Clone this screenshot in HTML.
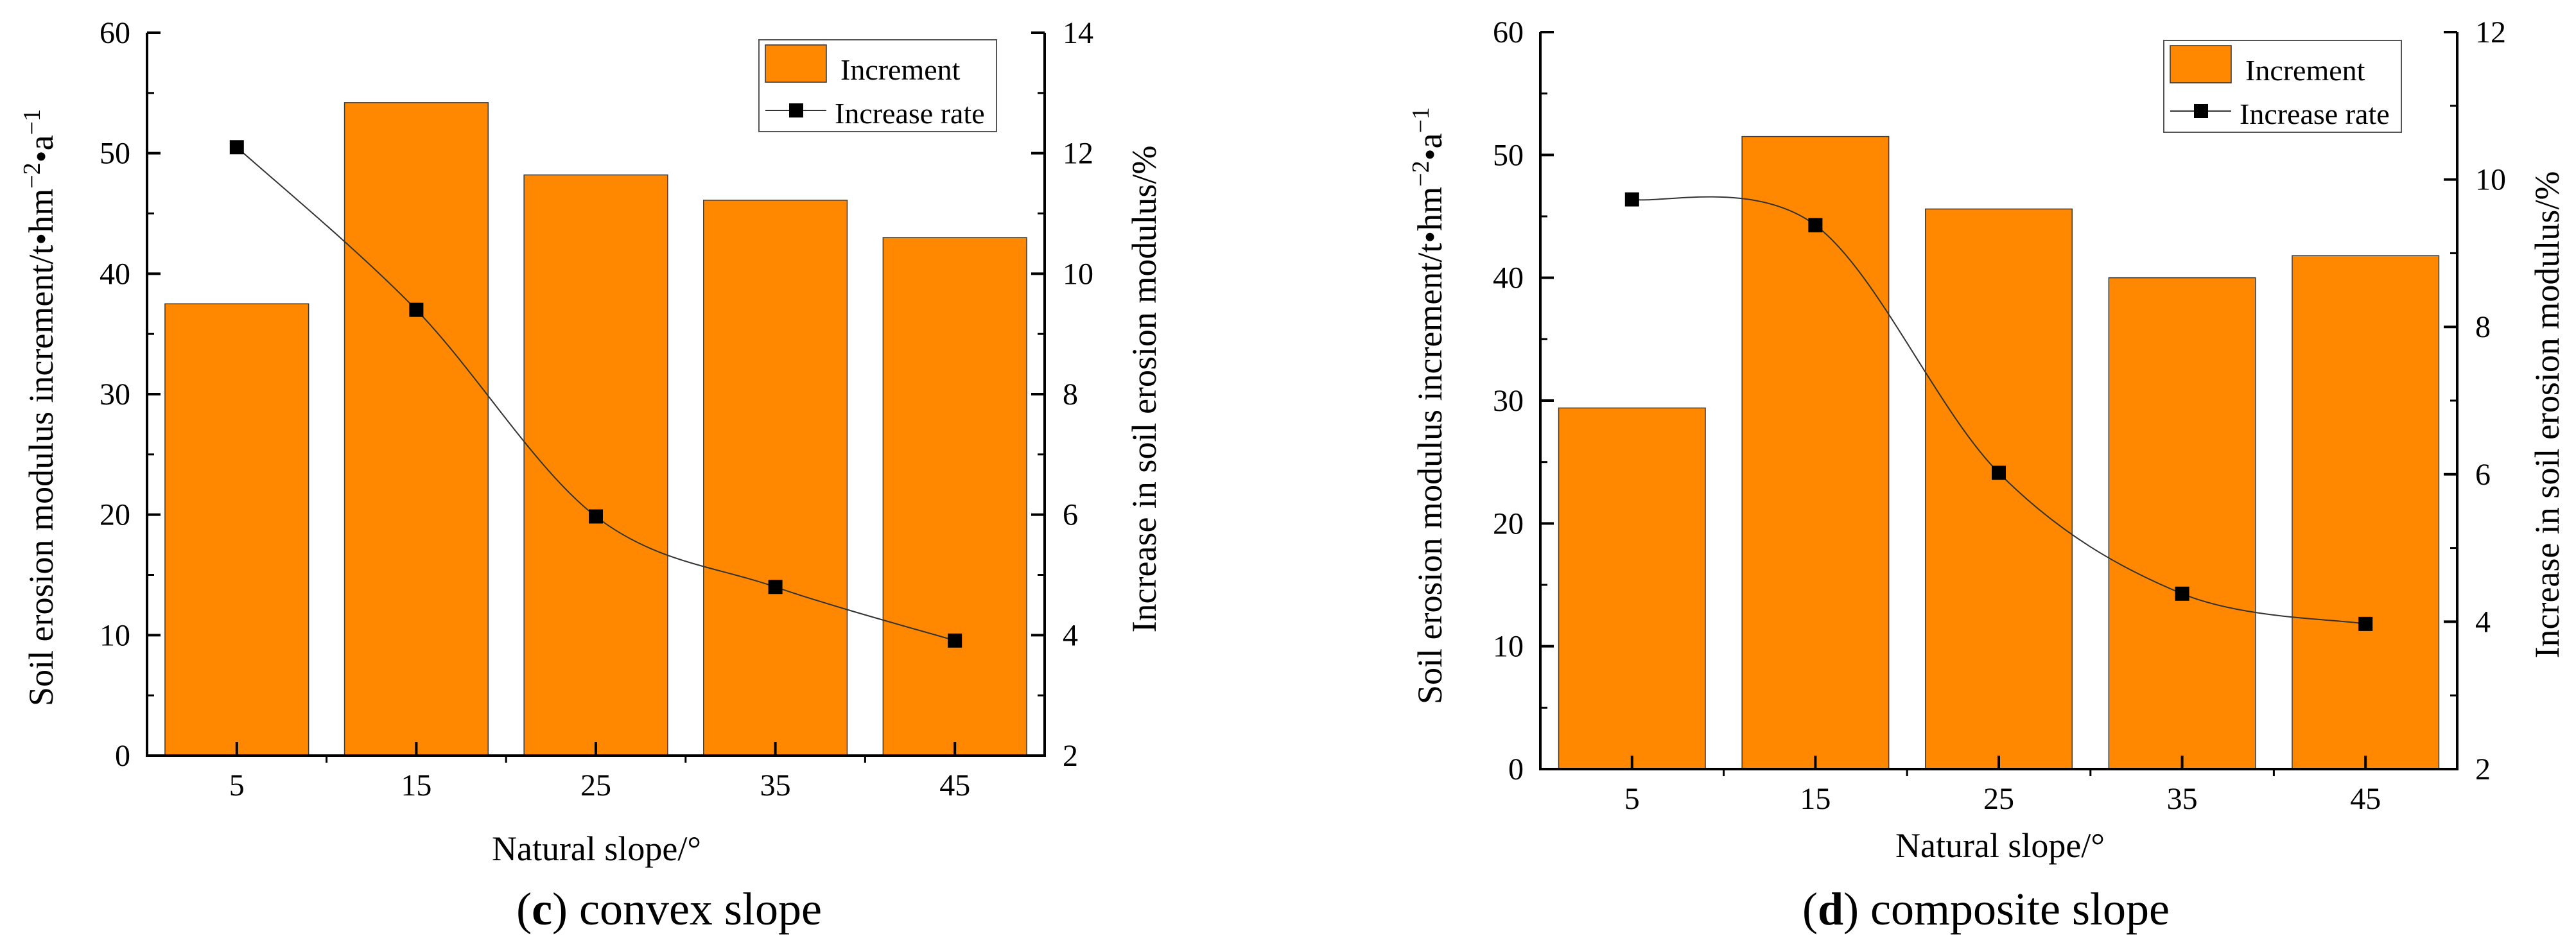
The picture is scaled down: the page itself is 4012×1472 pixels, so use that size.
<!DOCTYPE html>
<html><head><meta charset="utf-8"><style>
html,body{margin:0;padding:0;background:#fff;}
svg{display:block;}
svg text{font-family:"Liberation Serif","DejaVu Serif",serif;}
</style></head><body>
<svg id="fig" width="4012" height="1472" viewBox="0 0 4012 1472" xmlns="http://www.w3.org/2000/svg" font-family="Liberation Serif, serif"></svg>
<script>
const categories = ["5","15","25","35","45"];
const incrementC = [37.5, 54.2, 48.2, 46.1, 43.0];
const rateC = [12.1, 9.4, 5.97, 4.8, 3.91];
const incrementD = [29.4, 51.5, 45.6, 40.0, 41.8];
const rateD = [9.73, 9.38, 6.02, 4.38, 3.97];
const leftTicks = [0,10,20,30,40,50,60];
const rightTicksC = [2,4,6,8,10,12,14];
const rightTicksD = [2,4,6,8,10,12];

const NS = "http://www.w3.org/2000/svg";
const svg = document.getElementById('fig');
function mk(tag, attrs, parent, text){
  const e = document.createElementNS(NS, tag);
  for (const k in attrs) e.setAttribute(k, attrs[k]);
  if (tag === 'text') e.setAttribute('font-family', 'Liberation Serif, serif');
  if (text !== undefined) e.textContent = text;
  (parent||svg).appendChild(e);
  return e;
}

function chart(cfg, inc, rate, rTicks){
  const g = mk('g', {});
  
  
  const L=cfg.L, R=cfg.R, T=cfg.T, B=cfg.B;
  const band = (R-L)/categories.length;
  const xc = i => L + band*(i+0.5);
  const yl = v => B - (v-0)/(60-0)*(B-T);
  const rMin = rTicks[0], rMax = rTicks[rTicks.length-1];
  const yr = v => B - (v-rMin)/(rMax-rMin)*(B-T);
  const bw = band*0.8;
  inc.forEach((v,i)=>{
    const r = mk('rect',{x:xc(i)-bw/2, y:yl(v), width:bw, height:B-yl(v), fill:'#FF8800', stroke:'#3a3a3a','stroke-width':1.5}, g);
    
    
  });
  const pts = rate.map((v,i)=>[xc(i), yr(v)]);
  let d = 'M'+pts[0][0]+','+pts[0][1];
  for (let i=0;i<pts.length-1;i++){
    const p0=pts[Math.max(0,i-1)], p1=pts[i], p2=pts[i+1], p3=pts[Math.min(pts.length-1,i+2)];
    const c1=[p1[0]+(p2[0]-p0[0])/6, p1[1]+(p2[1]-p0[1])/6];
    const c2=[p2[0]-(p3[0]-p1[0])/6, p2[1]-(p3[1]-p1[1])/6];
    d += ' C'+c1[0]+','+c1[1]+' '+c2[0]+','+c2[1]+' '+p2[0]+','+p2[1];
  }
  const ln = mk('path',{d:d, fill:'none', stroke:'#333', 'stroke-width':2}, g);
  
  
  pts.forEach((p,i)=>{
    const m = mk('rect',{x:p[0]-11, y:p[1]-11, width:22, height:22, fill:'#000'}, g);
    
    
  });
  const ax = mk('path',{d:`M${L},${T} V${B} H${R} V${T}`, fill:'none', stroke:'#000','stroke-width':4}, g);
  
  
  leftTicks.forEach((v,i)=>{
    const y=yl(v);
    mk('line',{x1:L,x2:L+21,y1:y,y2:y,stroke:'#000','stroke-width':4}, g);
    if (i<leftTicks.length-1){ const ym=yl(v+5); mk('line',{x1:L,x2:L+11,y1:ym,y2:ym,stroke:'#000','stroke-width':3}, g); }
    const t = mk('text',{x:L-26, y:y+16, 'text-anchor':'end','font-size':48}, g, String(v));
    
    
  });
  rTicks.forEach((v,i)=>{
    const y=yr(v);
    mk('line',{x1:R,x2:R-21,y1:y,y2:y,stroke:'#000','stroke-width':4}, g);
    if (i<rTicks.length-1){ const ym=yr(v+1); mk('line',{x1:R,x2:R-11,y1:ym,y2:ym,stroke:'#000','stroke-width':3}, g); }
    const t = mk('text',{x:R+28, y:y+16, 'text-anchor':'start','font-size':48}, g, String(v));
    
    
  });
  categories.forEach((c,i)=>{
    const x=xc(i);
    mk('line',{x1:x,x2:x,y1:B,y2:B-21,stroke:'#000','stroke-width':4}, g);
    if (i>0) mk('line',{x1:L+band*i,x2:L+band*i,y1:B,y2:B+11,stroke:'#000','stroke-width':3}, g);
    const t = mk('text',{x:x, y:B+62, 'text-anchor':'middle','font-size':48}, g, c);
    
    
  });
  const xt = mk('text',{x:cfg.xtX, y:cfg.xtY, 'text-anchor':'middle','font-size':54}, g, 'Natural slope/°');
  
  
  const yt = mk('text',{transform:`translate(${cfg.ylX},${cfg.ylY}) rotate(-90)`, 'text-anchor':'middle','font-size':54}, g);
  
  
  mk('tspan',{},yt,'Soil erosion modulus increment/t•hm');
  mk('tspan',{dy:-20,'font-size':38},yt,'−2');
  mk('tspan',{dy:20},yt,'•a');
  mk('tspan',{dy:-20,'font-size':38},yt,'−1');
  const yr2 = mk('text',{transform:`translate(${cfg.yrX},${cfg.yrY}) rotate(-90)`, 'text-anchor':'middle','font-size':54}, g, 'Increase in soil erosion modulus/%');
  
  
  const lg = mk('g',{}, g);
  
  
  const lx=cfg.legX, ly=cfg.legY;
  mk('rect',{x:lx,y:ly,width:370,height:143,fill:'#fff',stroke:'#555','stroke-width':2}, lg);
  mk('rect',{x:lx+10,y:ly+8,width:95,height:58,fill:'#FF8800',stroke:'#333','stroke-width':1.5}, lg);
  mk('text',{x:lx+127,y:ly+62,'font-size':46}, lg, 'Increment');
  mk('line',{x1:lx+10,x2:lx+105,y1:ly+110,y2:ly+110,stroke:'#333','stroke-width':2}, lg);
  mk('rect',{x:lx+47,y:ly+99,width:22,height:22,fill:'#000'}, lg);
  mk('text',{x:lx+118,y:ly+130,'font-size':46}, lg, 'Increase rate');
  const cap = mk('text',{x:cfg.capX,y:cfg.capY,'text-anchor':'middle','font-size':72}, g);
  
  
  mk('tspan',{},cap,'(');
  mk('tspan',{'font-weight':'bold'},cap,cfg.letter);
  mk('tspan',{},cap,') '+cfg.capText);
}

chart({name:'chart-convex-slope',L:229,R:1627,T:51,B:1177,xtX:929,xtY:1340,ylX:82,ylY:635,yrX:1800,yrY:606,legX:1182,legY:62,capX:1042,capY:1440,letter:'c',capText:'convex slope'}, incrementC, rateC, rightTicksC);
chart({name:'chart-composite-slope',L:2399,R:3827,T:50,B:1198,xtX:3115,xtY:1335,ylX:2245,ylY:632,yrX:3985,yrY:646,legX:3370,legY:63,capX:3093,capY:1440,letter:'d',capText:'composite slope'}, incrementD, rateD, rightTicksD);
</script>
</body></html>
